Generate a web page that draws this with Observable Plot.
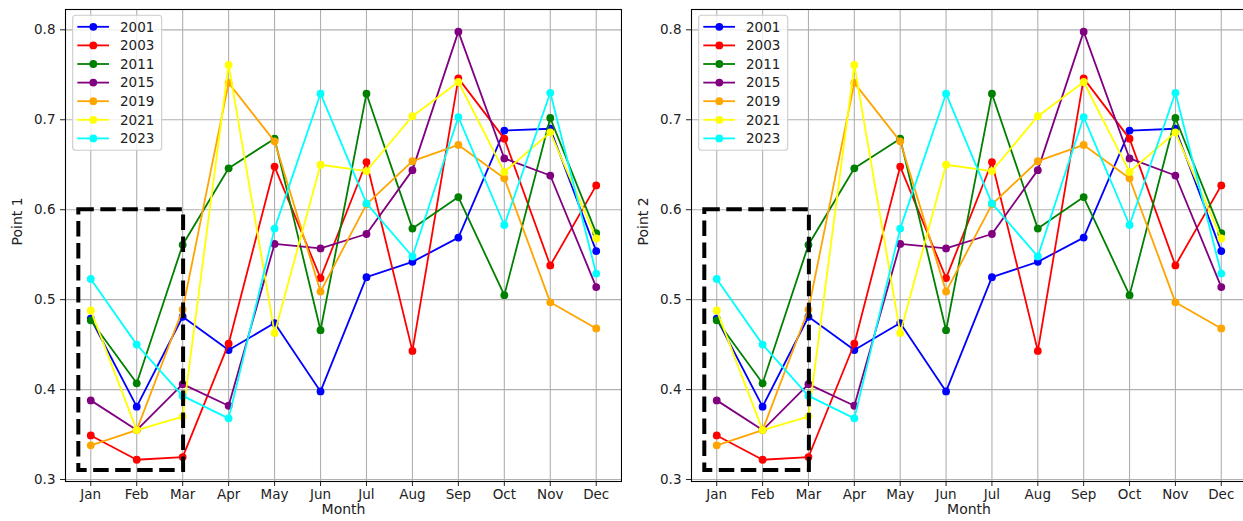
<!DOCTYPE html>
<html>
<head>
<meta charset="utf-8">
<script src="https://cdn.jsdelivr.net/npm/d3@7"></script>
<script src="https://cdn.jsdelivr.net/npm/@observablehq/plot@0.6"></script>
<style>
  html, body { margin: 0; padding: 0; background: white; overflow: hidden; }
  #wrap { position: relative; width: 1243px; height: 521px; overflow: hidden; }
  #wrap svg { position: absolute; top: 0; display: block; max-width: none !important; }
</style>
</head>
<body>
<div id="wrap"></div>
<script>
// ---- data ----
const months = ["Jan","Feb","Mar","Apr","May","Jun","Jul","Aug","Sep","Oct","Nov","Dec"];
const years = ["2001","2003","2011","2015","2019","2021","2023"];
const colors = ["#0000ff","#ff0000","#008000","#800080","#ffa500","#ffff00","#00ffff"];

const v2001 = [0.479, 0.381, 0.481, 0.444, 0.474, 0.398, 0.525, 0.542, 0.569, 0.688, 0.690, 0.554];
const v2003 = [0.349, 0.322, 0.325, 0.451, 0.648, 0.524, 0.653, 0.443, 0.746, 0.679, 0.538, 0.627];
const v2011 = [0.477, 0.407, 0.561, 0.646, 0.679, 0.466, 0.729, 0.579, 0.614, 0.505, 0.702, 0.574];
const v2015 = [0.388, 0.355, 0.406, 0.382, 0.562, 0.557, 0.573, 0.644, 0.798, 0.657, 0.638, 0.514];
const v2019 = [0.338, 0.355, 0.489, 0.741, 0.676, 0.509, 0.606, 0.654, 0.672, 0.635, 0.497, 0.468];
const v2021 = [0.488, 0.355, 0.370, 0.761, 0.463, 0.650, 0.643, 0.704, 0.742, 0.642, 0.686, 0.568];
const v2023 = [0.523, 0.450, 0.393, 0.368, 0.579, 0.729, 0.607, 0.548, 0.703, 0.583, 0.730, 0.529];

const yTicks = [0.3, 0.4, 0.5, 0.6, 0.7, 0.8];
// highlight box: [x1 (month index), x2], [y1, y2]
const boxX = [-0.26, 2.02];
const boxY = [0.31, 0.6];

const panels = ["Point 1", "Point 2"];
const seriesValues = [v2001, v2003, v2011, v2015, v2019, v2021, v2023];

// ---- build tidy table ----
const series = years.map((yr, k) => ({
  year: yr, color: colors[k],
  rows: seriesValues[k].map((v, i) => ({month: i, value: v}))
}));

const FONT = "DejaVu Sans, sans-serif";

function makePanel(label, opts) {
  const marks = [
    Plot.gridX(d3.range(months.length), {stroke: "#b0b0b0", strokeOpacity: 1, strokeWidth: 1.1}),
    Plot.gridY(yTicks, {stroke: "#b0b0b0", strokeOpacity: 1, strokeWidth: 1.1}),
  ];
  for (const s of series) {
    marks.push(Plot.line(s.rows, {x: "month", y: "value", stroke: s.color, strokeWidth: 1.8}));
    marks.push(Plot.dot(s.rows, {x: "month", y: "value", fill: s.color, r: 3.9, stroke: "none"}));
  }
  marks.push(Plot.rect([{x1: boxX[0], x2: boxX[1], y1: boxY[0], y2: boxY[1]}],
    {x1: "x1", x2: "x2", y1: "y1", y2: "y2", fill: "none", stroke: "black", strokeWidth: 4, strokeDasharray: "15.5,6.5"}));
  marks.push(Plot.frame({stroke: "black", strokeWidth: 1.1}));
  marks.push(Plot.axisX(d3.range(months.length), {tickFormat: i => months[i], tickSize: 5, tickPadding: 3, label: null, fontSize: 13.5}));
  marks.push(Plot.axisY(yTicks, {tickFormat: d3.format(".1f"), tickSize: 5, tickPadding: 5, label: null, fontSize: 13.5}));
  marks.push(Plot.text(["Month"], {text: d => d, frameAnchor: "bottom", dy: 32, fontSize: 14, fill: "#222"}));
  marks.push(Plot.text([label], {text: d => d, frameAnchor: "left", dx: -48, rotate: -90, fontSize: 14, fill: "#222"}));

  const svg = Plot.plot({
    width: opts.width, height: 521,
    marginLeft: opts.ml, marginRight: opts.mr, marginTop: 9, marginBottom: 40,
    x: {type: "linear", domain: [-0.55, 11.55]},
    y: {type: "linear", domain: [0.2978, 0.8226]},
    style: {fontFamily: FONT, fontSize: "13.5px", color: "#222", background: "white", overflow: "visible"},
    marks
  });

  // legend (upper left inside the frame)
  const g = d3.select(svg).append("g").attr("font-family", FONT).attr("font-size", 13.5)
    .attr("text-anchor", "start");
  const bx = opts.ml + 7.7, by = 15.2, bw = 89, bh = 135;
  g.append("rect").attr("x", bx).attr("y", by).attr("width", bw).attr("height", bh)
    .attr("rx", 3).attr("fill", "white").attr("fill-opacity", 0.8)
    .attr("stroke", "#cccccc").attr("stroke-width", 1.1);
  series.forEach((s, i) => {
    const cy = 26.8 + i * 18.6;
    g.append("line").attr("x1", bx + 4.6).attr("x2", bx + 36.3).attr("y1", cy).attr("y2", cy)
      .attr("stroke", s.color).attr("stroke-width", 1.8);
    g.append("circle").attr("cx", bx + 20.6).attr("cy", cy).attr("r", 3.9).attr("fill", s.color);
    g.append("text").attr("x", bx + 47.3).attr("y", cy).attr("dy", "0.35em")
      .attr("text-anchor", "start").attr("fill", "#222").text(s.year);
  });
  svg.style.left = opts.left + "px";
  return svg;
}

const wrap = document.getElementById("wrap");
wrap.appendChild(makePanel(panels[0], {width: 622, ml: 65, mr: 1, left: 0}));
wrap.appendChild(makePanel(panels[1], {width: 625, ml: 69, mr: 1, left: 622}));
</script>
</body>
</html>
